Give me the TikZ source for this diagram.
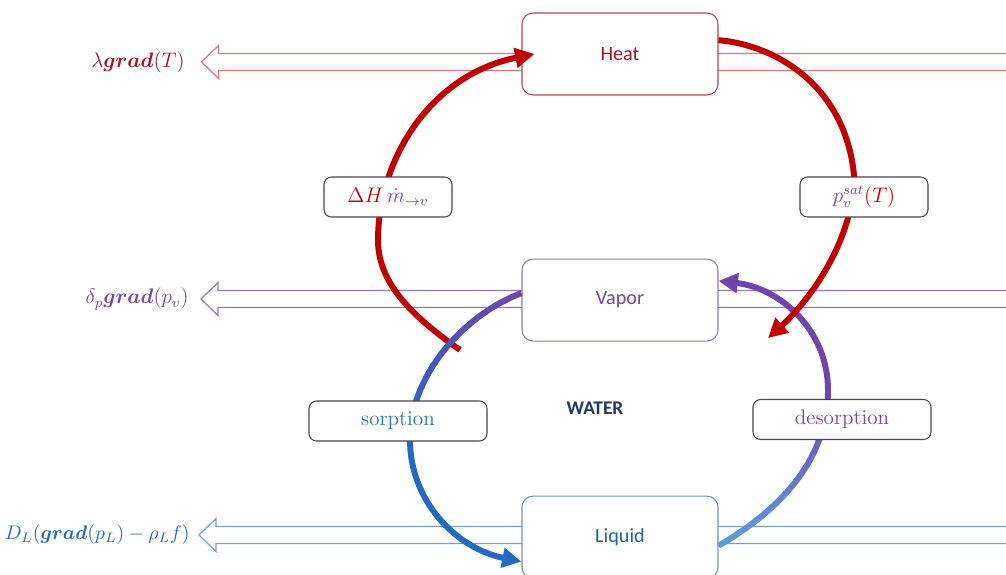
\RequirePackage{fix-cm}
\documentclass[tikz,border=0pt]{standalone}
\usepackage{fontspec}
\usepackage{amsmath,bm}
\newfontfamily\calibri{Carlito}
\usetikzlibrary{arrows.meta, positioning}

\definecolor{heatred}{RGB}{192,0,0}
\definecolor{heattext}{RGB}{165,20,35}
\definecolor{heatedge}{RGB}{180,70,80}
\definecolor{heatflux}{RGB}{215,120,125}
\definecolor{vapviolet}{RGB}{112,68,170}
\definecolor{vaptext}{RGB}{112,72,160}
\definecolor{vapedge}{RGB}{145,120,180}
\definecolor{vapflux}{RGB}{150,120,190}
\definecolor{liqblue}{RGB}{35,105,190}
\definecolor{liqlight}{RGB}{95,155,215}
\definecolor{liqtext}{RGB}{35,100,150}
\definecolor{liqedge}{RGB}{105,150,185}
\definecolor{liqflux}{RGB}{120,160,200}
\definecolor{sorptext}{RGB}{40,120,170}
\definecolor{boxgray}{RGB}{70,70,70}
\definecolor{navy}{RGB}{31,56,100}

\tikzset{
  phase/.style={rounded corners=0.22cm, minimum width=3.92cm, minimum height=1.64cm,
    fill=white, line width=0.6pt, font=\calibri\fontsize{11.5}{13}\selectfont},
  coupling/.style={draw=boxgray, rounded corners=0.15cm, minimum height=0.8cm,
    fill=white, line width=0.6pt, font=\fontsize{12}{14}\selectfont},
  flux/.style={line width=0.7pt, line join=miter},
  fluxlabel/.style={anchor=east, inner sep=0pt, font=\fontsize{12}{14}\selectfont},
  transfer/.style={line width=3.4pt, -{Triangle[length=11pt, width=11pt]}},
}

% hollow flux arrow: #1 colour, #2 tip
\newcommand{\fluxarrow}[2]{%
  \draw[flux, draw=#1] ([shift={(16.5,0.17)}]#2) -- ++(-16.16,0) -- ++(0,0.16)
    -- (#2) -- ++(0.34,-0.33) -- ++(0,0.16) -- ++(16.16,0);
}

\begin{document}
\begin{tikzpicture}
  \useasboundingbox (0,0) rectangle (20.12,11.48);

  % flux expressions on the left
  \node[fluxlabel, text=heattext] (lamT) at (3.70,10.24) {$\lambda\bm{grad}(T)$};
  \node[fluxlabel, text=vaptext] (deltap) at (3.78,5.50) {$\delta_p\bm{grad}(p_v)$};
  \node[fluxlabel, text=liqblue, font=\fontsize{11.2}{13}\selectfont] (darcy) at (3.80,0.78)
    {$D_L(\bm{grad}(p_L)-\rho_L f)$};
  \coordinate[right=0.33cm of lamT] (heattip);
  \coordinate[right=0.24cm of deltap] (vaptip);
  \coordinate[right=0.18cm of darcy] (liqtip);
  \fluxarrow{heatflux}{heattip}
  \fluxarrow{vapflux}{vaptip}
  \fluxarrow{liqflux}{liqtip}

  % the three phases
  \node[phase, draw=heatedge, text=heattext] (heat) at (12.4,10.4) {Heat};
  \node[phase, draw=vapedge, text=vaptext, below=3.26cm of heat] (vapor) {Vapor};
  \node[phase, draw=liqedge, text=liqtext, below=3.08cm of vapor] (liquid) {Liquid};

  % latent heat
  \coordinate (evap) at (9.2,4.48);
  \draw[transfer, draw=heatred] (evap) .. controls (8.3,5.12) and (7.56,5.78) .. (7.56,6.68)
    .. controls (7.56,8.28) and (8.6,9.98) .. ([xshift=0.26cm]heat.west);

  % sorption, violet fading into blue
  \foreach \i in {1,...,12} {
    \pgfmathtruncatemacro{\pct}{100*(12-\i)/11}
    \pgfmathsetmacro{\ylo}{\i==1 ? -1 : 3.0+(\i-1)*0.24}
    \pgfmathsetmacro{\yhi}{\i==12 ? 12 : 3.0+\i*0.24+0.02}
    \begin{scope}
      \clip (5,\ylo) rectangle (11,\yhi);
      \draw[transfer, draw=liqblue!\pct!vapviolet] (vapor.176) .. controls (9.4,5.24) and (8.2,4.08) .. (8.2,2.68)
        .. controls (8.2,1.48) and (9.1,0.52) .. (liquid.194);
    \end{scope}
  }

  % desorption, light blue into violet
  \foreach \i in {1,...,12} {
    \pgfmathtruncatemacro{\pct}{100*(12-\i)/11}
    \pgfmathsetmacro{\ylo}{\i==1 ? -1 : 0.6+(\i-1)*0.26}
    \pgfmathsetmacro{\yhi}{\i==12 ? 12 : 0.6+\i*0.26+0.02}
    \begin{scope}
      \clip (14,\ylo) rectangle (18,\yhi);
      \draw[transfer, draw=liqlight!\pct!vapviolet] (liquid.355) .. controls (15.6,1.28) and (16.56,2.28) .. (16.56,3.68)
        .. controls (16.56,4.88) and (15.6,5.72) .. (vapor.11);
    \end{scope}
  }

  % saturation pressure
  \coordinate (cond) at (15.36,4.72);
  \draw[transfer, draw=heatred] (heat.8) .. controls (15.5,10.58) and (16.9,9.78) .. (17.08,7.98)
    .. controls (17.08,6.68) and (16.2,5.48) .. (cond);

  % coupling labels
  \node[coupling, minimum width=2.56cm] (latent) at (7.76,7.54)
    {$\color{heatred}\Delta H\,\color{vapviolet}\dot m_{\to v}$};
  \node[coupling, minimum width=2.56cm] (satur) at (17.28,7.54)
    {$\color{vapviolet}p_v^{sat}\color{heatred}(T)$};
  \node[coupling, minimum width=3.56cm, text=sorptext] (sorp) at (7.96,3.06) {sorption};
  \node[coupling, minimum width=3.56cm, text=vaptext] (desorp) at (16.84,3.09) {desorption};
  \node[font=\calibri\bfseries\fontsize{11}{13}\selectfont, text=navy] (water) at (11.9,3.32) {WATER};
\end{tikzpicture}
\end{document}
